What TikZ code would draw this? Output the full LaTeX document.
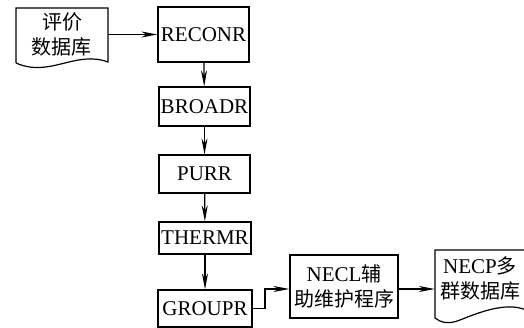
\documentclass[tikz,border=0pt]{standalone}
\usepackage{fontspec}
\setmainfont{Liberation Serif}
\newfontfamily\cjk{Noto Sans CJK SC}
\usetikzlibrary{arrows.meta}
\begin{document}
\begin{tikzpicture}[x=1pt,y=1pt,
  every node/.style={inner sep=0pt, font=\fontsize{21}{25}\selectfont},
  procbox/.style={draw, line width=1.2pt, minimum width=#1},
  flow/.style={line width=1.2pt, -{Stealth[length=16pt,width=6pt,inset=5pt]}},
  docshape/.style={line width=1.2pt}]
\useasboundingbox (0,0) rectangle (524,-328);
% source document
\node (doc1) [align=center, text width=92pt, minimum height=55pt] at (62,-34) {{\cjk\fontsize{20}{27}\selectfont 评价\\数据库}};
\draw[docshape] (16,-63) -- (16,-8) -- (108,-8) -- (108,-62)
  .. controls (75,-50) and (50,-78) .. (16,-63);
% chain of processing boxes
\node (reconr) [procbox=91pt, minimum height=55pt] at (203.5,-34.5) {RECONR};
\node (broadr) [procbox=91pt, minimum height=39pt] at (204.5,-106.5) {BROADR};
\node (purr)   [procbox=91pt, minimum height=38pt] at (204.5,-174) {PURR};
\node (thermr) [procbox=92pt, minimum height=32pt] at (205,-238) {THERMR};
\node (groupr) [procbox=94pt, minimum height=37pt] at (205,-308.5) {GROUPR};
\node (necl)   [procbox=108pt, minimum height=63pt, align=center] at (344,-286.5)
  {NECL{\cjk\fontsize{20}{25}\selectfont 辅}\\{\cjk\fontsize{20}{25}\selectfont 助维护程序}};
% target document
\node (necp) [align=center, text width=90pt, minimum height=60pt] at (480,-278)
  {NECP{\cjk\fontsize{20}{25}\selectfont 多}\\{\cjk\fontsize{20}{25}\selectfont 群数据库}};
\draw[docshape] (435,-318) -- (435,-250) -- (530,-250) -- (530,-312)
  .. controls (510,-300) and (480,-312) .. (460,-320)
  .. controls (448,-325) and (440,-322) .. (435,-318);
% connectors
\draw[flow] (doc1.east |- reconr.west) -- (reconr.west);
\draw[flow] (reconr) -- (broadr);
\draw[flow] (broadr) -- (purr);
\draw[flow] (purr) -- (thermr);
\draw[flow] (thermr) -- (groupr);
\coordinate (bend) at (265,-289);
\draw[flow] (groupr.east) -| (bend) -- (necl.west |- bend);
\draw[flow] (necl.east |- bend) -- (necp.west |- bend);
\end{tikzpicture}
\end{document}
